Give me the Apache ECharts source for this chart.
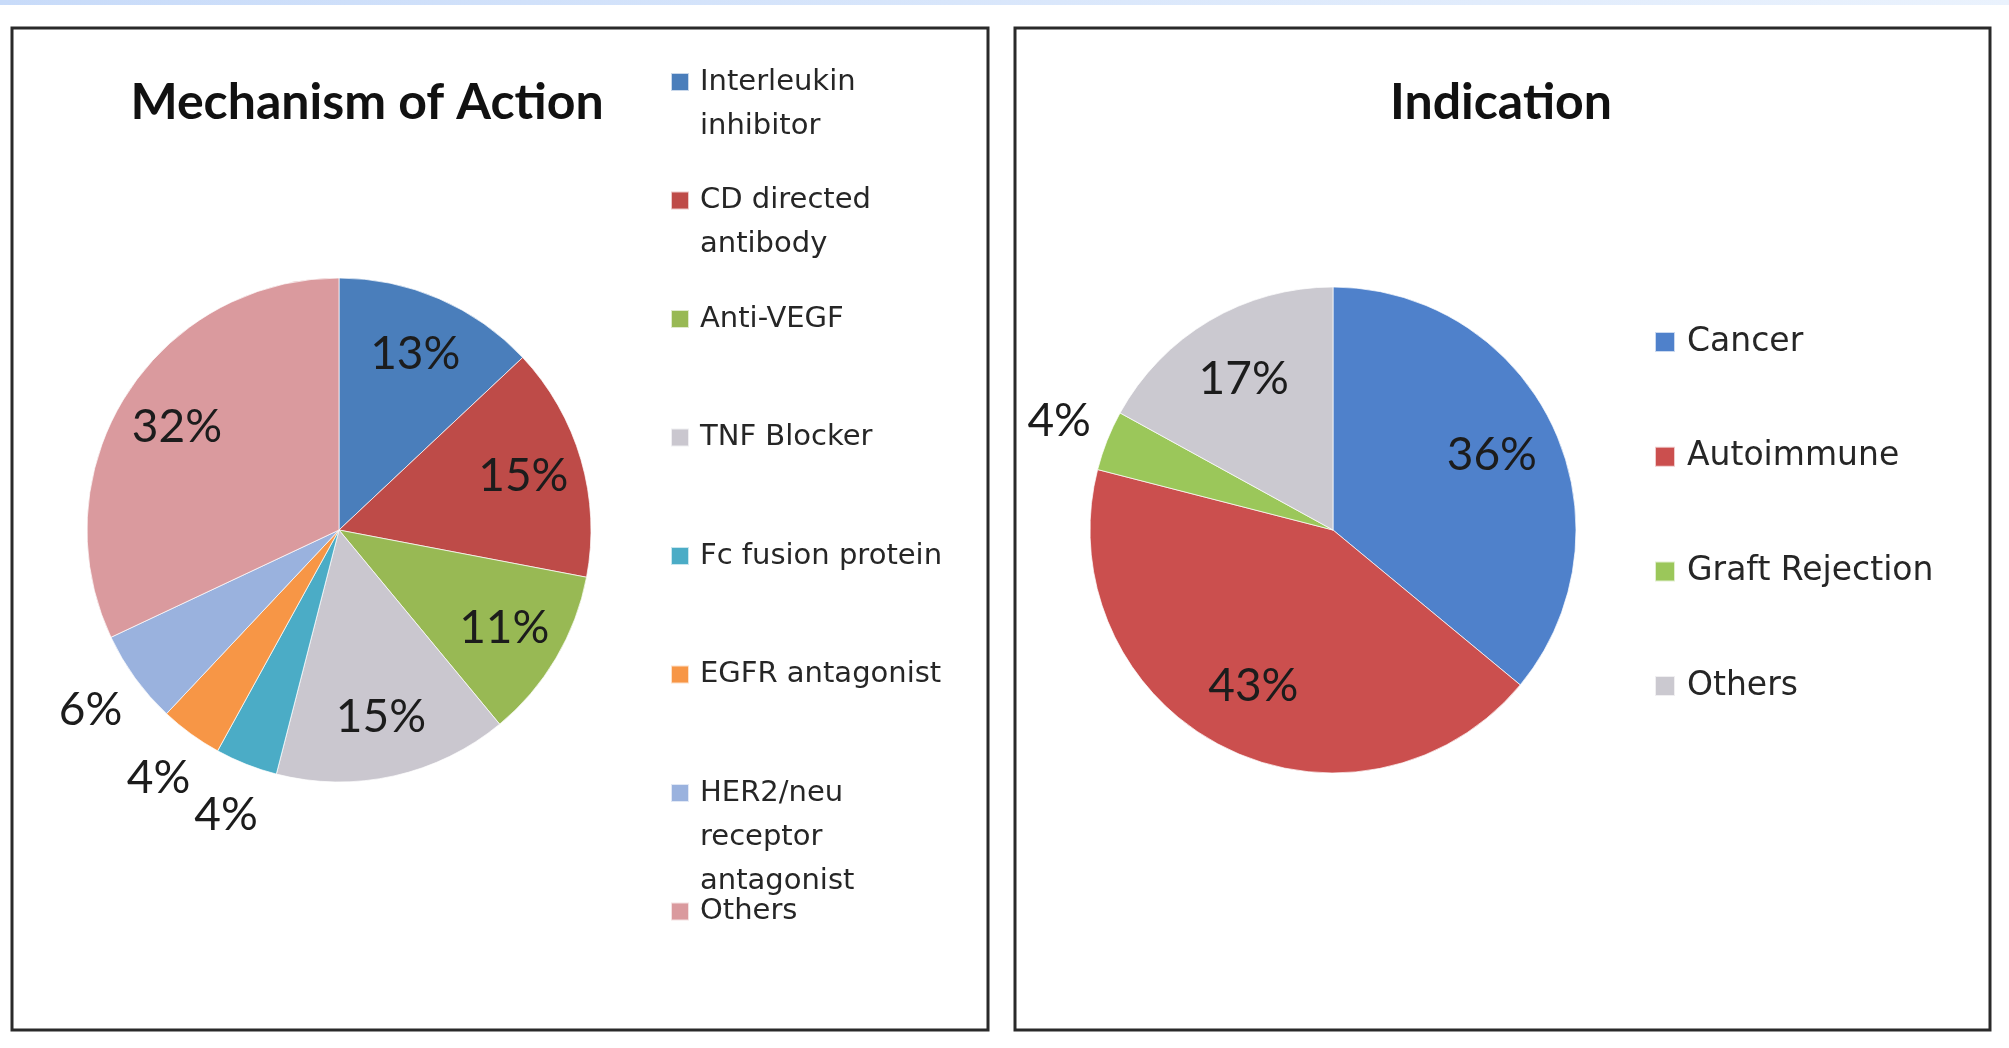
<!DOCTYPE html>
<html>
<head>
<meta charset="utf-8">
<title>Mechanism of Action / Indication</title>
<script src="https://cdn.jsdelivr.net/npm/echarts@6/dist/echarts.min.js"></script>
<style>
  html, body { margin: 0; padding: 0; background: #fff; }
  #chart { width: 2009px; height: 1048px; }
</style>
</head>
<body>
<div id="chart"></div>
<script>
// left pie
var moaNames  = ['Interleukin\ninhibitor', 'CD directed\nantibody', 'Anti-VEGF', 'TNF Blocker',
                 'Fc fusion protein', 'EGFR antagonist', 'HER2/neu\nreceptor\nantagonist', 'Others'];
var moaValues = [13, 15, 11, 15, 4, 4, 6, 32];
var moaOutside = ['Fc fusion protein', 'EGFR antagonist', 'HER2/neu\nreceptor\nantagonist'];

// right pie
var indNames  = ['Cancer', 'Autoimmune', 'Graft Rejection', 'Others'];
var indValues = [36, 43, 4, 17];
var indOutside = ['Graft Rejection'];

var moaColors = ['#4A7EBB', '#BE4B48', '#98B954', '#CAC7CF', '#4BACC6', '#F79646', '#9AB2DE', '#DA9A9E'];
var indColors = ['#4F81CB', '#CB4F4E', '#9BC75A', '#CBC9D0'];

var FONT = 'Lato, "Open Sans", sans-serif';
var LEGEND_FONT = '"DejaVu Sans", sans-serif';

var chart = echarts.init(document.getElementById('chart'));

function pieData(names, values, colors, outside, ring) {
  var d = [];
  for (var i = 0; i < names.length; i++) {
    var isOut = outside.indexOf(names[i]) >= 0;
    var item = { name: names[i], value: values[i] };
    if (ring === 'base') {
      item.itemStyle = { color: colors[i] };
    } else {
      item.label = { show: ring === 'out' ? isOut : !isOut };
    }
    d.push(item);
  }
  return d;
}

function pieSeries(names, values, colors, outside, center, r, innerFrac, outerR) {
  var base = {
    type: 'pie', center: center, radius: r, silent: true,
    itemStyle: { borderColor: 'rgba(255,255,255,0.7)', borderWidth: 1 },
    label: { show: false }, labelLine: { show: false },
    data: pieData(names, values, colors, outside, 'base')
  };
  var labelStyle = {
    position: 'inside', formatter: '{c}%',
    fontFamily: FONT, fontSize: 46, color: '#1c1c1c'
  };
  // transparent rings, only there to place the % labels
  var inner = {
    type: 'pie', center: center, radius: [r * innerFrac, r], silent: true,
    itemStyle: { color: 'rgba(0,0,0,0)' },
    label: labelStyle, labelLine: { show: false },
    data: pieData(names, values, colors, outside, 'in')
  };
  var outer = {
    type: 'pie', center: center, radius: [r, outerR], silent: true,
    itemStyle: { color: 'rgba(0,0,0,0)' },
    label: labelStyle, labelLine: { show: false },
    data: pieData(names, values, colors, outside, 'out')
  };
  return [base, inner, outer];
}

// one legend per entry so the square sits on the first text line
function legends(names, colors, x, firstY, step, fontSize, lineH, sq, boxW) {
  var list = [];
  for (var i = 0; i < names.length; i++) {
    var h = names[i].split('\n').length * lineH;
    var y0 = (lineH - sq) / 2;
    var icon = 'path://M0,0l0.01,0l0,0.01z' +
      'M0,' + y0 + 'h' + sq + 'v' + sq + 'h-' + sq + 'z' +
      'M' + boxW + ',' + h + 'l-0.01,0l0,-0.01z';
    list.push({
      orient: 'vertical', left: x, top: firstY + i * step - lineH / 2,
      padding: 0, itemGap: 0, itemWidth: boxW, itemHeight: h,
      selectedMode: false,
      textStyle: { fontFamily: LEGEND_FONT, fontSize: fontSize, lineHeight: lineH, color: '#262626' },
      data: [{ name: names[i], icon: icon, itemStyle: { color: colors[i] } }]
    });
  }
  return list;
}

var option = {
  animation: false,
  backgroundColor: '#fff',
  title: [
    { text: 'Mechanism of Action', left: 367, top: 103, textAlign: 'center', textVerticalAlign: 'middle', padding: 0,
      textStyle: { fontFamily: FONT, fontWeight: 'bold', fontSize: 50, color: '#111' } },
    { text: 'Indication', left: 1501, top: 103, textAlign: 'center', textVerticalAlign: 'middle', padding: 0,
      textStyle: { fontFamily: FONT, fontWeight: 'bold', fontSize: 50, color: '#111' } }
  ],
  legend: legends(moaNames, moaColors, 670, 81, 118.5, 29, 44, 18, 24)
    .concat(legends(indNames, indColors, 1654, 341, 114.7, 33, 40, 20, 27)),
  graphic: [
    { type: 'rect', shape: { x: 0, y: 0, width: 2009, height: 5 }, silent: true,
      style: { fill: new echarts.graphic.LinearGradient(0, 0, 1, 0, [
        { offset: 0, color: '#C8DBF9' }, { offset: 1, color: '#EAF2FD' }]) } },
    { type: 'rect', shape: { x: 12, y: 28, width: 976, height: 1002 }, silent: true,
      style: { fill: 'none', stroke: '#2a2a2a', lineWidth: 3 } },
    { type: 'rect', shape: { x: 1015, y: 28, width: 975, height: 1002 }, silent: true,
      style: { fill: 'none', stroke: '#2a2a2a', lineWidth: 3 } }
  ],
  series: pieSeries(moaNames, moaValues, moaColors, moaOutside, [339, 530], 252, 0.5, 356)
    .concat(pieSeries(indNames, indValues, indColors, indOutside, [1333, 530], 243, 0.42, 340))
};

chart.setOption(option);

window.onresize = function() {
  chart.resize();
};
</script>
</body>
</html>
